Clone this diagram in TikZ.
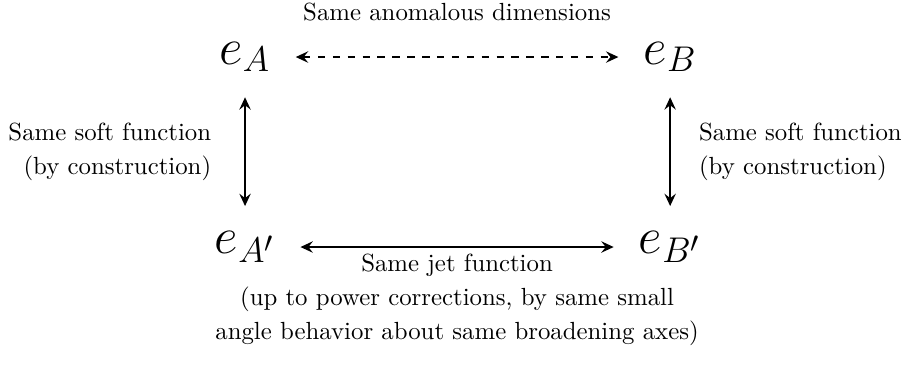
\documentclass[tikz,border=0pt]{standalone}
\usepackage{amsmath}
\usepackage{tikz}
\usetikzlibrary{arrows.meta,positioning}

\begin{document}
\begin{tikzpicture}[
    node distance=76.6pt and 171.4pt,
    obs/.style={inner sep=10pt, font=\huge},
    lbl/.style={inner sep=3.33pt, font={\fontsize{10}{13.7}\selectfont}},
    arr/.style={{Stealth[length=5pt,width=4.6pt,inset=1.8pt]}-{Stealth[length=5pt,width=4.6pt,inset=1.8pt]}, line width=0.65pt}
]
    \useasboundingbox (-98.8pt,23pt) rectangle (266.9pt,-131.5pt);

    \node [obs] (eA) at (0,0) {$e_A$};
    \node [obs, on grid, right=of eA] (eB) {$e_B$};
    \node [obs, on grid, below=of eA] (eAp) {$e_{A'}$};
    \node [obs, on grid, below=of eB] (eBp) {$e_{B'}$};

    \draw [arr, dashed] (eA) -- node [lbl, above=11pt] (anom) {Same anomalous dimensions} (eB);
    \draw [arr] (eA) -- node [lbl, left=10pt, align=right] (softA) {Same soft function\\(by construction)} (eAp);
    \draw [arr] (eB) -- node [lbl, right=8pt, align=left] (softB) {Same soft function\\(by construction)} (eBp);
    \draw [arr] (eAp) -- node [lbl, below=-1pt, align=center] (jet) {Same jet function\\(up to power corrections, by same small\\angle behavior about same broadening axes)} (eBp);
\end{tikzpicture}
\end{document}
